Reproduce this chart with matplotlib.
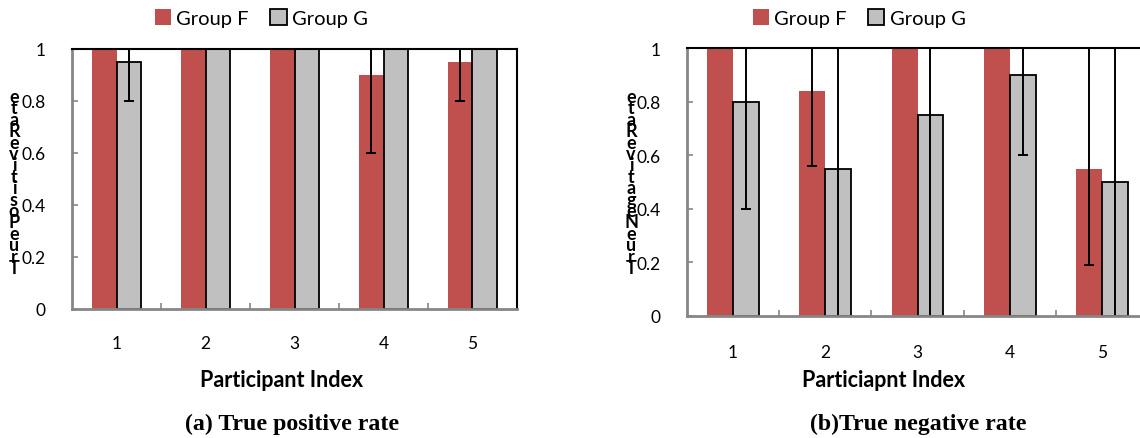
"""Grouped bar charts of true positive / true negative rate per participant."""
import matplotlib
matplotlib.use("Agg")
import matplotlib.pyplot as plt
import numpy as np

participants = ["1", "2", "3", "4", "5"]
series_names = ["Group F", "Group G"]

# (a) true positive rate
tpr_f = [1.0, 1.0, 1.0, 0.90, 0.95]
tpr_g = [0.95, 1.0, 1.0, 1.0, 1.0]
tpr_f_low = [1.0, 1.0, 1.0, 0.60, 0.80]
tpr_g_low = [0.80, 1.0, 1.0, 1.0, 1.0]
tpr_f_high = [1.0, 1.0, 1.0, 1.0, 1.0]
tpr_g_high = [1.0, 1.0, 1.0, 1.0, 1.0]

# (b) true negative rate
tnr_f = [1.0, 0.84, 1.0, 1.0, 0.55]
tnr_g = [0.80, 0.55, 0.75, 0.90, 0.50]
tnr_f_low = [1.0, 0.56, 1.0, 1.0, 0.19]
tnr_g_low = [0.40, 0.0, 0.0, 0.60, 0.0]
tnr_f_high = [1.0, 1.0, 1.0, 1.0, 1.0]
tnr_g_high = [1.0, 1.0, 1.0, 1.0, 1.0]

RED = "#C0504D"
GRAY = "#C0C0C0"
AXIS_GRAY = "#868686"
SANS = "Lato"
SERIF = "Liberation Serif"

fig = plt.figure(figsize=(11.4, 4.39), dpi=100)


def draw_panel(rect, f_vals, g_vals, f_lo, g_lo, f_hi, g_hi, xlabel, ylabel,
               caption, label_x, ylabel_x, caption_x, legend_x, xpad):
    ax = fig.add_axes(rect)
    x = np.arange(len(participants))
    w = 0.28
    f_vals, g_vals = np.array(f_vals), np.array(g_vals)
    ax.bar(x - w / 2, f_vals, w, color=RED, label=series_names[0], zorder=2)
    ax.bar(x + w / 2, g_vals, w, color=GRAY, edgecolor="black", linewidth=1.3,
           label=series_names[1], zorder=2)
    for xs, v, lo, hi in ((x - w / 2, f_vals, f_lo, f_hi),
                          (x + w / 2, g_vals, g_lo, g_hi)):
        yerr = [v - np.array(lo), np.array(hi) - v]
        ax.errorbar(xs, v, yerr=yerr, fmt="none", ecolor="black",
                    elinewidth=1.4, capsize=3.5, capthick=1.4, zorder=3)

    ax.set_xlim(-0.5, len(participants) - 0.5)
    ax.set_ylim(0, 1)
    ax.set_yticks([0, 0.2, 0.4, 0.6, 0.8, 1])
    ax.set_yticklabels(["0", "0.2", "0.4", "0.6", "0.8", "1"])
    ax.set_xticks(x)
    ax.set_xticklabels(participants)
    ax.set_xticks(np.arange(len(participants) - 1) + 0.5, minor=True)
    ax.tick_params(axis="x", which="major", length=0, pad=xpad, labelsize=12.5)
    ax.tick_params(axis="x", which="minor", direction="in", length=4,
                   color=AXIS_GRAY, width=1.2)
    ax.tick_params(axis="y", direction="in", length=4, color=AXIS_GRAY,
                   width=1.2, pad=19, labelsize=12.5)
    for lab in ax.get_xticklabels() + ax.get_yticklabels():
        lab.set_fontfamily(SANS)

    for side in ("left", "bottom"):
        ax.spines[side].set_color(AXIS_GRAY)
        ax.spines[side].set_linewidth(2)
        ax.spines[side].set_zorder(5)
    for side in ("top", "right"):
        ax.spines[side].set_color("black")
        ax.spines[side].set_linewidth(1.5)
        ax.spines[side].set_zorder(5)

    fig.text(label_x, 1 - 381 / 439, xlabel, ha="center", va="center",
             fontsize=15.5, fontweight="bold", family=SANS)
    fig.text(caption_x, 1 - 424 / 439, caption, ha="center", va="center",
             fontsize=17.2, fontweight="bold", family=SERIF)
    stacked = "\n".join(reversed(ylabel.replace(" ", "")))
    fig.text(ylabel_x, 1 - 183 / 439, stacked, ha="center", va="center",
             fontsize=13, fontweight="bold", family=SANS, linespacing=0.6)

    handles, labels = ax.get_legend_handles_labels()
    fig.legend(handles, labels, loc="center", bbox_to_anchor=(legend_x, 1 - 19 / 439),
               ncol=2, frameon=False, prop={"family": SANS, "size": 14.5},
               handlelength=0.8, handleheight=0.8, handletextpad=0.25,
               columnspacing=1.1)
    return ax


draw_panel([72 / 1140, 1 - 310 / 439, 445 / 1140, 260 / 439],
           tpr_f, tpr_g, tpr_f_low, tpr_g_low, tpr_f_high, tpr_g_high,
           "Participant Index", "True Positive Rate", "(a) True positive rate",
           282 / 1140, 14 / 1140, 292 / 1140, 261 / 1140, 19)

draw_panel([687 / 1140, 1 - 317 / 439, 461 / 1140, 268 / 439],
           tnr_f, tnr_g, tnr_f_low, tnr_g_low, tnr_f_high, tnr_g_high,
           "Particiapnt Index", "True Negative Rate", "(b)True negative rate",
           884 / 1140, 631 / 1140, 918 / 1140, 859 / 1140, 20)

fig.savefig("out.png", dpi=100)
plt.close(fig)
